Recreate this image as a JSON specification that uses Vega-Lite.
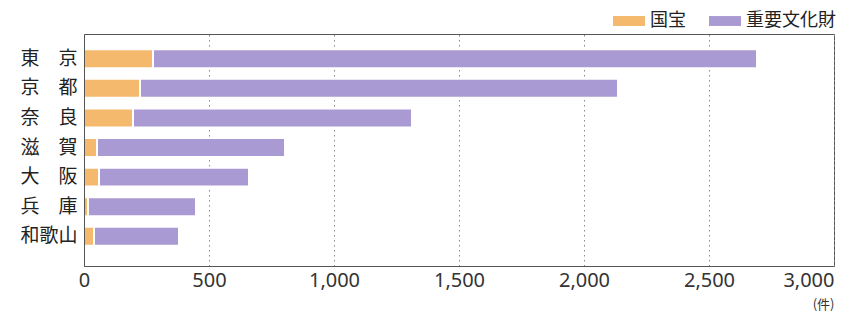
{
  "$schema": "https://vega.github.io/schema/vega-lite/v6.json",
  "width": 750,
  "height": 232,
  "autosize": "none",
  "padding": {"left": 84, "top": 34, "right": 9, "bottom": 61},
  "background": "white",
  "data": {
    "values": [
      {"pref": "東　京", "type": "国宝", "count": 276},
      {"pref": "東　京", "type": "重要文化財", "count": 2416},
      {"pref": "京　都", "type": "国宝", "count": 224},
      {"pref": "京　都", "type": "重要文化財", "count": 1912},
      {"pref": "奈　良", "type": "国宝", "count": 196},
      {"pref": "奈　良", "type": "重要文化財", "count": 1116},
      {"pref": "滋　賀", "type": "国宝", "count": 52},
      {"pref": "滋　賀", "type": "重要文化財", "count": 752},
      {"pref": "大　阪", "type": "国宝", "count": 60},
      {"pref": "大　阪", "type": "重要文化財", "count": 600},
      {"pref": "兵　庫", "type": "国宝", "count": 16},
      {"pref": "兵　庫", "type": "重要文化財", "count": 432},
      {"pref": "和歌山", "type": "国宝", "count": 40},
      {"pref": "和歌山", "type": "重要文化財", "count": 340}
    ]
  },
  "mark": {"type": "bar", "stroke": "white", "strokeWidth": 2},
  "encoding": {
    "y": {
      "field": "pref",
      "type": "nominal",
      "sort": ["東　京", "京　都", "奈　良", "滋　賀", "大　阪", "兵　庫", "和歌山"],
      "scale": {"paddingInner": 0.36, "paddingOuter": 0.6, "align": 0.43},
      "axis": {
        "title": null,
        "ticks": false,
        "grid": false,
        "labelFont": "Noto Sans CJK JP",
        "labelFontSize": 19,
        "labelColor": "#222",
        "labelPadding": 7,
        "domainColor": "#555",
        "zindex": 1
      }
    },
    "x": {
      "field": "count",
      "type": "quantitative",
      "stack": "zero",
      "scale": {"domain": [0, 3000], "nice": false},
      "axis": {
        "values": [0, 500, 1000, 1500, 2000, 2500, 3000],
        "format": ",d",
        "ticks": false,
        "grid": true,
        "gridColor": "#888",
        "gridDash": [1.5, 3.5],
        "gridWidth": 1,
        "domainColor": "#555",
        "labelFont": "Noto Sans",
        "labelFontSize": 20,
        "labelColor": "#333",
        "labelPadding": 4,
        "labelAlign": {"condition": {"test": "datum.value === 3000", "value": "right"}, "value": "center"},
        "title": "(件)",
        "titleFont": "Noto Sans CJK JP",
        "titleFontSize": 13,
        "titleFontWeight": "normal",
        "titleColor": "#333",
        "titleAlign": "right",
        "titleX": 750,
        "titleY": 32,
        "titleBaseline": "top",
        "zindex": 0
      }
    },
    "color": {
      "field": "type",
      "type": "nominal",
      "scale": {"domain": ["国宝", "重要文化財"], "range": ["#F4B96C", "#AA9AD3"]},
      "legend": {
        "title": null,
        "orient": "none",
        "direction": "horizontal",
        "columns": 2,
        "legendX": 529,
        "legendY": -29,
        "symbolType": "M-1,-0.31H1V0.31H-1Z",
        "symbolSize": 1024,
        "symbolStrokeWidth": 0,
        "labelFont": "Noto Sans CJK JP",
        "labelFontSize": 18,
        "labelColor": "#222",
        "labelOffset": 5,
        "columnPadding": 23
      }
    },
    "order": {"field": "type", "sort": "ascending"}
  },
  "config": {
    "view": {"stroke": "#555", "strokeWidth": 1}
  }
}
